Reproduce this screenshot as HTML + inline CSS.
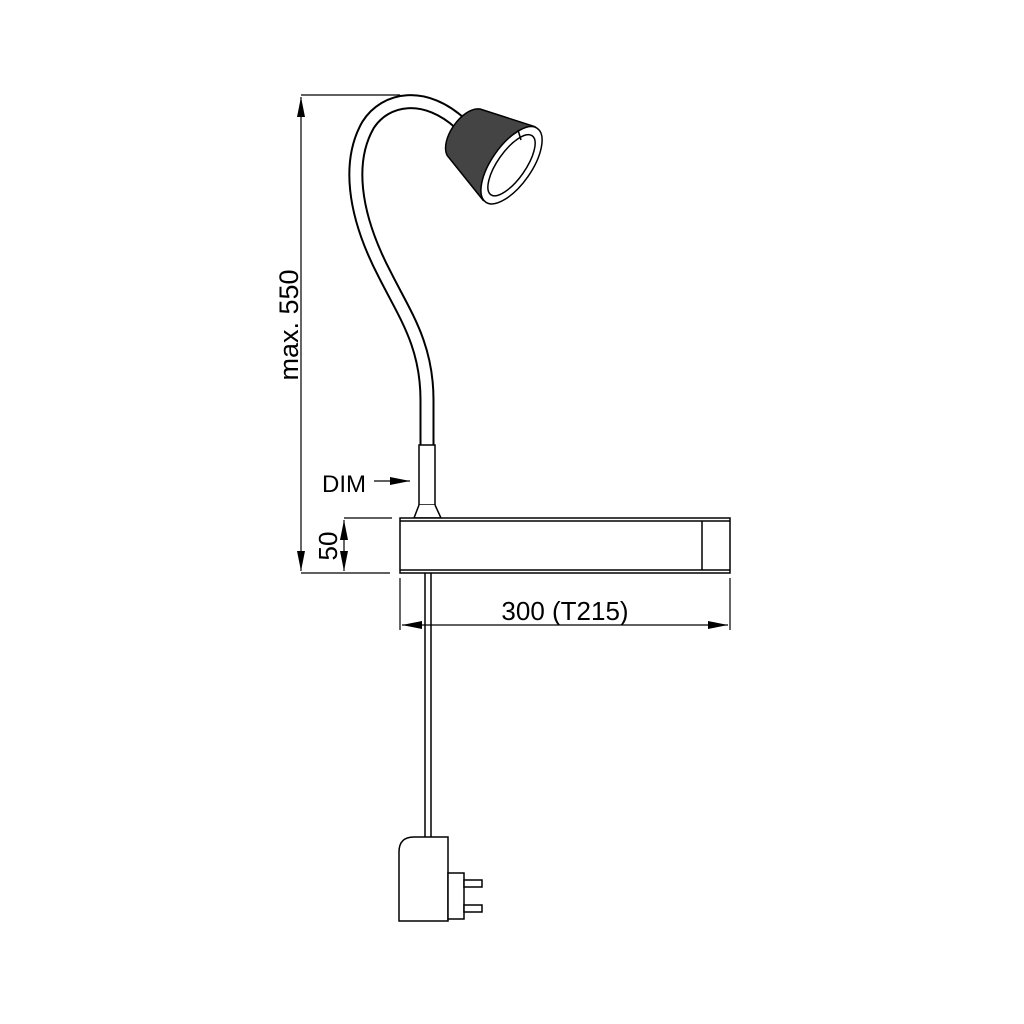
<!DOCTYPE html>
<html><head><meta charset="utf-8"><style>html,body{margin:0;padding:0;background:#fff}svg{display:block}</style></head>
<body>
<svg width="1024" height="1024" viewBox="0 0 1024 1024" xmlns="http://www.w3.org/2000/svg" font-family="Liberation Sans, sans-serif">
<defs>
<marker id="b" viewBox="0 0 20 8" markerWidth="20" markerHeight="8" refX="20" refY="4" orient="auto-start-reverse" markerUnits="userSpaceOnUse"><path d="M0,0 L20,4 L0,8 Z" fill="#000"/></marker>
</defs>
<g fill="none" stroke="#000" stroke-width="1.5">
<path d="M427,448 L427,400 C427,345 405,315 385,275 C352,212 348,160 368,125 C385,98 425,90 462,125" stroke-width="15" stroke-linecap="butt"/>
<path d="M427,448 L427,400 C427,345 405,315 385,275 C352,212 348,160 368,125 C385,98 425,90 462,125" stroke="#fff" stroke-width="11"/>
<rect x="419" y="445" width="16" height="60" fill="#fff"/>
<path d="M419,505 L414,518 L441,518 L435,505" fill="#fff"/>
<g transform="translate(-4,-10) rotate(-55 492 160)">
<path d="M464,130 C472,114 513,114 521,130 L538,185 C536,205 450,205 448,185 Z" fill="#444"/>
<ellipse cx="493" cy="188" rx="45" ry="20" fill="#fff"/>
<ellipse cx="493" cy="188" rx="36" ry="14"/>
</g>
<line x1="518" y1="130" x2="521" y2="140"/>
<rect x="400" y="518" width="330" height="55" fill="#fff"/>
<line x1="400" y1="521" x2="730" y2="521"/>
<line x1="400" y1="570" x2="730" y2="570"/>
<line x1="702" y1="521" x2="702" y2="570"/>
<line x1="425" y1="573" x2="425" y2="837"/>
<line x1="431" y1="573" x2="431" y2="837"/>
<path d="M399,921 L399,852 Q399,837 414,837 L448,837 L448,921 Z" fill="#fff"/>
<rect x="448" y="873" width="16" height="46" fill="#fff"/>
<rect x="464" y="880" width="18" height="7" fill="#fff"/>
<rect x="464" y="905" width="18" height="7" fill="#fff"/>
</g>
<g stroke="#000" stroke-width="1.2" fill="none">
<line x1="301" y1="95" x2="400" y2="95"/>
<line x1="301" y1="573" x2="390" y2="573"/>
<line x1="301" y1="97" x2="301" y2="571" marker-start="url(#b)" marker-end="url(#b)"/>
<line x1="344" y1="518" x2="392" y2="518"/>
<line x1="344" y1="520" x2="344" y2="571" marker-start="url(#b)" marker-end="url(#b)"/>
<line x1="400" y1="578" x2="400" y2="630"/>
<line x1="730" y1="578" x2="730" y2="630"/>
<line x1="402" y1="625" x2="728" y2="625" marker-start="url(#b)" marker-end="url(#b)"/>
<line x1="374" y1="481" x2="410" y2="481" marker-end="url(#b)"/>
</g>
<g fill="#000" font-size="26">
<text x="322" y="492" font-size="24">DIM</text>
<text x="565" y="620" text-anchor="middle">300 (T215)</text>
<text transform="translate(298 325) rotate(-90)" text-anchor="middle" font-size="27">max. 550</text>
<text transform="translate(337 546) rotate(-90)" text-anchor="middle">50</text>
</g>
</svg>
</body></html>
